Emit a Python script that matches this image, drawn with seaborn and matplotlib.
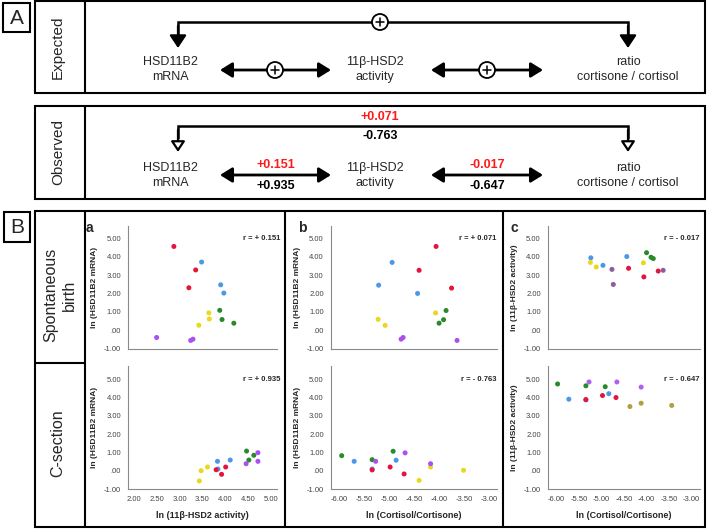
import matplotlib
matplotlib.use("Agg")
import matplotlib.pyplot as plt
import pandas as pd
import seaborn as sns
from matplotlib.patches import Rectangle, Circle
from matplotlib.ticker import FuncFormatter, MultipleLocator

sns.set_style("white")
plt.rcParams["font.family"] = ["Liberation Sans", "DejaVu Sans"]

W, H = 708, 529

# one colour group per three points, same order in every panel
groups = ["blue"] * 3 + ["red"] * 3 + ["green"] * 3 + ["yellow"] * 3 + ["purple"] * 3

# spontaneous birth
a_top_x = [3.48, 3.90, 3.97, 2.87, 3.35, 3.20, 3.88, 3.93, 4.19, 3.64, 3.65, 3.42, 2.49, 3.24, 3.29]
a_top_y = [3.72, 2.48, 2.03, 4.57, 3.29, 2.32, 1.09, 0.59, 0.39, 0.95, 0.62, 0.28, -0.39, -0.55, -0.48]
b_top_x = [-4.94, -5.21, -4.43, -4.06, -4.40, -3.75, -3.86, -3.91, -4.00, -4.07, -5.22, -5.08, -4.76, -4.72, -3.64]
b_top_y = [3.70, 2.46, 2.01, 4.57, 3.27, 2.30, 1.08, 0.58, 0.39, 0.95, 0.60, 0.27, -0.48, -0.39, -0.55]
c_top_x = [-5.24, -4.97, -4.44, -4.40, -4.06, -3.74, -4.00, -3.90, -3.85, -5.25, -5.12, -4.07, -4.77, -4.74, -3.63]
c_top_y = [3.95, 3.54, 4.02, 3.38, 2.91, 3.23, 4.23, 3.98, 3.91, 3.70, 3.45, 3.68, 3.32, 2.50, 3.27]

# C-section
a_bot_x = [3.83, 4.11, 3.84, 4.01, 3.80, 3.92, 4.47, 4.63, 4.52, 3.61, 3.47, 3.43, 4.72, 4.72, 4.46]
a_bot_y = [0.51, 0.58, 0.09, 0.20, 0.05, -0.20, 1.07, 0.84, 0.58, 0.20, 0.00, -0.56, 0.98, 0.51, 0.38]
b_bot_x = [-5.70, -5.34, -4.86, -5.34, -4.98, -4.70, -5.95, -5.34, -4.92, -4.40, -4.17, -3.51, -5.27, -4.68, -4.17]
b_bot_y = [0.51, 0.09, 0.57, 0.04, 0.20, -0.18, 0.82, 0.60, 1.06, -0.53, 0.20, 0.02, 0.51, 0.97, 0.38]
c_bot_x = [-5.73, -5.35, -4.84, -5.35, -4.98, -4.68, -5.98, -5.35, -4.92, -4.37, -4.12, -3.44, -5.28, -4.66, -4.12]
c_bot_y = [3.90, 3.86, 4.20, 3.88, 4.10, 3.99, 4.73, 4.63, 4.58, 3.50, 3.68, 3.56, 4.84, 4.84, 4.56]

r_spont = ["+ 0.151", "+ 0.071", "- 0.017"]
r_csec = ["+ 0.935", "- 0.763", "- 0.647"]
obs_red = ["+0.151", "+0.071", "-0.017"]
obs_black = ["+0.935", "-0.763", "-0.647"]

pal = {"blue": "#4a98e8", "red": "#e4143c", "green": "#2a8a2a",
       "yellow": "#e8d820", "purple": "#a850f0"}
pal_c_top = dict(pal, purple="#8c5c9c")
pal_c_bot = dict(pal, yellow="#b0a040", purple="#b060f0")

fig = plt.figure(figsize=(W / 100, H / 100), dpi=100)

# ---------- overlay for the diagram and frames (pixel coords) ----------
ov = fig.add_axes([0, 0, 1, 1])
ov.set_xlim(0, W)
ov.set_ylim(H, 0)
ov.axis("off")


def box(x0, y0, x1, y1, lw=1.5):
    ov.add_patch(Rectangle((x0, y0), x1 - x0, y1 - y0, fill=False, ec="k", lw=lw))


def plus(x, y):
    ov.add_patch(Circle((x, y), 8, fc="white", ec="k", lw=1.3, zorder=5))
    ov.plot([x - 4, x + 4], [y, y], color="k", lw=1.1, zorder=6)
    ov.plot([x, x], [y - 4, y + 4], color="k", lw=1.1, zorder=6)


def double_arrow(x0, x1, y):
    ov.annotate("", xy=(x1, y), xytext=(x0, y),
                arrowprops=dict(arrowstyle="<|-|>,head_length=0.45,head_width=0.28",
                                mutation_scale=16, lw=2, color="k",
                                shrinkA=0, shrinkB=0))


def connector(y_top, y_tip, hollow):
    ov.plot([178, 178, 628, 628], [y_top + 12, y_top, y_top, y_top + 12],
            color="k", lw=1.8, solid_joinstyle="miter")
    for x in (178, 628):
        props = dict(arrowstyle="-|>,head_length=0.45,head_width=0.3",
                     mutation_scale=14 if hollow else 17, lw=1.6,
                     shrinkA=0, shrinkB=0)
        if hollow:
            props.update(fc="white", ec="k")
        else:
            props.update(color="k")
        ov.annotate("", xy=(x, y_tip), xytext=(x, y_top + 4), arrowprops=props)


def node_labels(y1, y2):
    for x, (t1, t2) in zip([170, 375, 628], [("HSD11B2", "mRNA"),
                                             ("11β-HSD2", "activity"),
                                             ("ratio", "cortisone / cortisol")]):
        ov.text(x, y1, t1, ha="center", va="center", fontsize=9)
        ov.text(x, y2, t2, ha="center", va="center", fontsize=9)


# panel letters A / B
box(3, 3, 30, 32)
ov.text(16.5, 18, "A", ha="center", va="center", fontsize=15)
box(4, 212, 30, 242)
ov.text(17, 227.5, "B", ha="center", va="center", fontsize=15)

# expected
box(35, 1, 705, 93)
ov.plot([85, 85], [1, 93], color="k", lw=1.5)
ov.text(58, 47, "Expected", rotation=90, ha="center", va="center", fontsize=11)
connector(22, 48, hollow=False)
plus(380, 22)
double_arrow(220, 331, 70)
double_arrow(431, 543, 70)
plus(275, 70)
plus(487, 70)
node_labels(62, 77)

# observed
box(35, 106, 705, 199)
ov.plot([85, 85], [106, 199], color="k", lw=1.5)
ov.text(58, 152, "Observed", rotation=90, ha="center", va="center", fontsize=11)
connector(126, 152, hollow=True)
double_arrow(220, 331, 175)
double_arrow(431, 543, 175)
node_labels(168, 183)
for x, y_r, y_b, i in [(380, 117, 136, 1), (276, 165, 186, 0), (487, 165, 186, 2)]:
    ov.text(x, y_r, obs_red[i], ha="center", va="center", fontsize=9,
            color="#ff1a1a", fontweight="bold")
    ov.text(x, y_b, obs_black[i], ha="center", va="center", fontsize=9,
            color="k", fontweight="bold")

# B frame
box(35, 211, 705, 527)
ov.plot([85, 85], [211, 527], color="k", lw=1.5)
ov.plot([285, 285], [211, 527], color="k", lw=1.5)
ov.plot([503, 503], [211, 527], color="k", lw=1.5)
ov.plot([35, 85], [363, 363], color="k", lw=1.5)
ov.text(60, 295, "Spontaneous\nbirth", rotation=90, ha="center", va="center",
        fontsize=11.5, linespacing=1.25)
ov.text(58, 443, "C-section", rotation=90, ha="center", va="center", fontsize=11.5)
for x, t in [(89, "a"), (302, "b"), (514, "c")]:
    ov.text(x, 228, t, ha="center", va="center", fontsize=10, fontweight="bold")


# ---------- scatter panels ----------
def spss(v, pos):
    s = f"{v:.2f}"
    return ".00" if s in ("0.00", "-0.00") else s


def add_ax(l, t, r, b):
    return fig.add_axes([l / W, 1 - b / H, (r - l) / W, (b - t) / H])


cols = [
    dict(l=128, r=277, xlim=(1.86, 5.14), ylab="ln (HSD11B2 mRNA)",
         xlab="ln (11β-HSD2 activity)", rx=1.02),
    dict(l=330.7, r=496.5, xlim=(-6.17, -2.85), ylab="ln (HSD11B2 mRNA)",
         xlab="ln (Cortisol/Cortisone)", rx=1.0),
    dict(l=547.7, r=700, xlim=(-6.2, -2.81), ylab="ln (11β-HSD2 activity)",
         xlab="ln (Cortisol/Cortisone)", rx=1.0),
]
top_data = [(a_top_x, a_top_y, pal), (b_top_x, b_top_y, pal), (c_top_x, c_top_y, pal_c_top)]
bot_data = [(a_bot_x, a_bot_y, pal), (b_bot_x, b_bot_y, pal), (c_bot_x, c_bot_y, pal_c_bot)]

for row, (t, b, data, rvals) in enumerate([(225.7, 348.7, top_data, r_spont),
                                            (366.2, 489, bot_data, r_csec)]):
    for col, (xs, ys, p) in zip(cols, data):
        ax = add_ax(col["l"], t, col["r"], b)
        ax.set_facecolor("none")
        df = pd.DataFrame({"x": xs, "y": ys, "group": groups})
        sns.scatterplot(data=df, x="x", y="y", hue="group", palette=p, s=13,
                        linewidth=0, legend=False, ax=ax)
        ax.set_xlim(*col["xlim"])
        ax.set_ylim(-1, 5.7)
        for side in ("top", "right"):
            ax.spines[side].set_visible(False)
        for side in ("left", "bottom"):
            ax.spines[side].set_color("#8a8a8a")
            ax.spines[side].set_linewidth(0.8)
        ax.yaxis.set_major_locator(MultipleLocator(1))
        ax.yaxis.set_minor_locator(MultipleLocator(0.5))
        ax.xaxis.set_major_locator(MultipleLocator(0.5))
        ax.xaxis.set_minor_locator(MultipleLocator(0.25))
        ax.yaxis.set_major_formatter(FuncFormatter(spss))
        ax.xaxis.set_major_formatter(FuncFormatter(spss))
        ax.tick_params(which="both", direction="out", color="#8a8a8a", width=0.6,
                       labelsize=5.5, labelcolor="#444444", pad=2)
        ax.tick_params(which="major", length=3)
        ax.tick_params(which="minor", length=1.8)
        ax.set_ylabel(col["ylab"], fontsize=6, fontweight="bold", labelpad=4)
        if row == 0:
            ax.tick_params(axis="x", which="both", bottom=False, labelbottom=False)
            ax.set_xlabel("")
        else:
            ax.set_xlabel(col["xlab"], fontsize=6.5, fontweight="bold", labelpad=6)
        ax.text(col["rx"], 6 / 6.7, "r = " + rvals[cols.index(col)],
                transform=ax.transAxes, ha="right", va="center",
                fontsize=5.5, fontweight="bold")

fig.savefig("out.png", dpi=100)
